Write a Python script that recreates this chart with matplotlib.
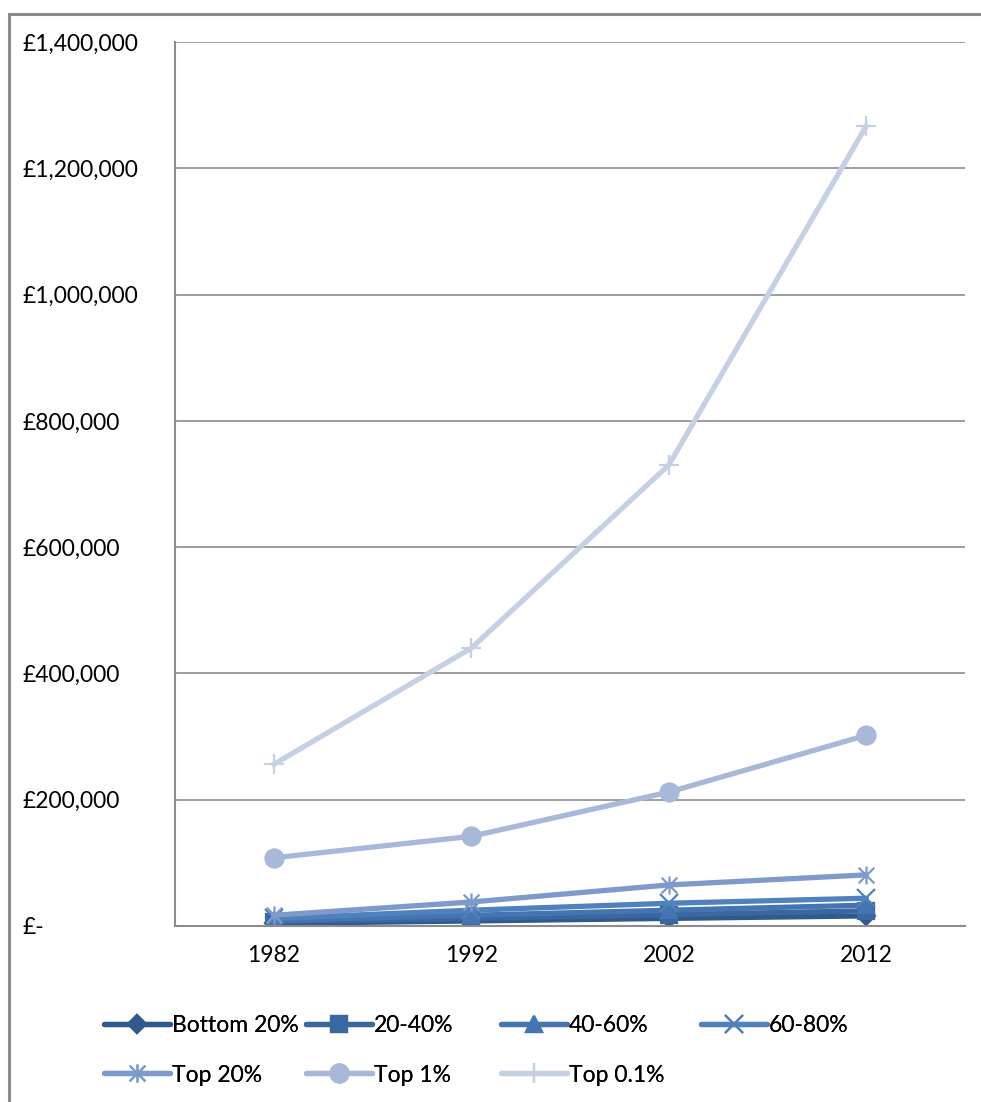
import matplotlib.pyplot as plt
from matplotlib.ticker import FuncFormatter
from matplotlib.patches import Rectangle
from matplotlib.path import Path

plt.rcParams['font.family'] = ['Lato', 'DejaVu Sans']

years = ['1982', '1992', '2002', '2012']
series_names = ['Bottom 20%', '20-40%', '40-60%', '60-80%', 'Top 20%', 'Top 1%', 'Top 0.1%']

bottom_20 = [4000, 8000, 12000, 16000]
q20_40 = [7000, 12000, 18000, 24000]
q40_60 = [9000, 17000, 25000, 33000]
q60_80 = [12000, 25000, 36000, 44000]
top_20 = [17000, 38000, 65000, 81000]
top_1 = [108000, 142000, 212000, 302000]
top_01 = [256000, 440000, 730000, 1267000]

# Excel-style star: an X with a vertical bar through it
star = Path([(-1, -1), (1, 1), (-1, 1), (1, -1), (0, -1.15), (0, 1.15)],
            [Path.MOVETO, Path.LINETO, Path.MOVETO, Path.LINETO, Path.MOVETO, Path.LINETO])

all_values = [bottom_20, q20_40, q40_60, q60_80, top_20, top_1, top_01]
colors = ['#2E5A8C', '#3A67A0', '#4574B2', '#4F81BD', '#7E9ACB', '#A7B8D9', '#C6D0E5']
markers = ['D', 's', '^', 'x', star, 'o', '+']
msizes = [9, 12, 12, 13, 13, 13, 14]

fig = plt.figure(figsize=(9.81, 11.02), dpi=100)
# outer chart frame
fig.add_artist(Rectangle((9 / 981, -0.05), 1.1, 0.05 + 1 - 14 / 1102,
                         transform=fig.transFigure, fill=False,
                         edgecolor='#8C8C8C', linewidth=2.2))

ax = fig.add_axes([175 / 981, 1 - 926 / 1102, 790 / 981, 884 / 1102])

x = [i + 0.5 for i in range(len(years))]
handles = []
for name, vals, c, m, ms in zip(series_names, all_values, colors, markers, msizes):
    h, = ax.plot(x, vals, color=c, linewidth=3.8, marker=m, markersize=ms,
                 markeredgecolor=c, markerfacecolor=c, markeredgewidth=1.6,
                 label=name, solid_capstyle='round')
    handles.append(h)

ax.set_xlim(0, 4)
ax.set_ylim(0, 1400000)
ax.set_xticks(x)
ax.set_xticklabels(years)
ax.set_yticks(range(0, 1400001, 200000))


def money(v, pos):
    if v == 0:
        return '£-'
    return '£{:,.0f}'.format(v)


ax.yaxis.set_major_formatter(FuncFormatter(money))
ax.tick_params(axis='both', length=0, labelsize=16.5, colors='black')
ax.tick_params(axis='x', pad=14)
ax.tick_params(axis='y', pad=110)
for lab in ax.get_yticklabels():
    lab.set_horizontalalignment('left')

ax.grid(axis='y', color='#8C8C8C', linewidth=1.2)
ax.set_axisbelow(True)
for s in ['top', 'right']:
    ax.spines[s].set_visible(False)
ax.spines['left'].set_color('#8C8C8C')
ax.spines['bottom'].set_color('#8C8C8C')
ax.spines['left'].set_linewidth(1.5)
ax.spines['bottom'].set_linewidth(1.5)

# legend laid out in fixed columns, two rows
col_x = [104, 306, 501, 701]
row_y = [1026, 1075]
for i, h in enumerate(handles):
    r, c = divmod(i, 4)
    leg = fig.legend([h], [h.get_label()], loc='center left',
                     bbox_to_anchor=(col_x[c] / 981, 1 - row_y[r] / 1102),
                     frameon=False, fontsize=16.5, handlelength=2.9,
                     handletextpad=0.05, borderpad=0, borderaxespad=0)
    fig.add_artist(leg)

fig.savefig('out.png', dpi=100)
